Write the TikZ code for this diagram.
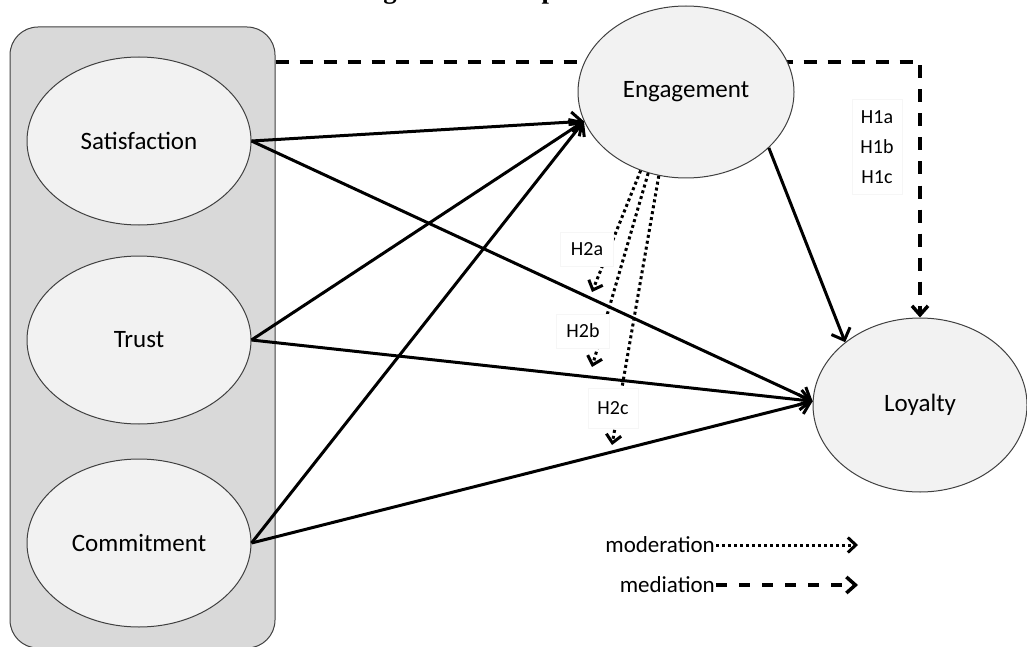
\documentclass[tikz,border=0pt]{standalone}
\usepackage{fontspec}
\setmainfont{Carlito}
\newfontfamily\titlefont{Liberation Serif}
\usetikzlibrary{shapes.geometric,arrows.meta}
\pgfdeclarelayer{background}
\pgfsetlayers{background,main}
\definecolor{boxgray}{HTML}{D9D9D9}
\definecolor{ellgray}{HTML}{F2F2F2}
\definecolor{edgegray}{HTML}{404040}
\begin{document}
\begin{tikzpicture}[x=1pt,y=-1pt,
  construct/.style={ellipse, draw=edgegray, line width=1pt, fill=ellgray,
    inner sep=0pt, font=\fontsize{25}{30}\selectfont},
  pathline/.style={line width=3pt, -{Straight Barb[length=10pt,width=20pt]}},
  mediation/.style={line width=3.5pt, dash pattern=on 13pt off 11pt,
    -{Straight Barb[length=9pt,width=16pt]}},
  moderation/.style={line width=3pt, dash pattern=on 3pt off 3pt,
    -{Straight Barb[length=8pt,width=15pt]}},
  hlabel/.style={fill=white, draw=gray!7, line width=0.6pt,
    font=\fontsize{20}{30}\selectfont, inner sep=0pt},
  legendtext/.style={font=\fontsize{23}{28}\selectfont, inner sep=1pt, anchor=east}
]
\clip (0,0) rectangle (1027,647);
\useasboundingbox (0,0) rectangle (1027,647);

% title (clipped by the page: only its descenders show)
\node[font=\titlefont\bfseries\fontsize{26.7}{30}\selectfont, anchor=base, inner sep=0pt] (title) at (520,-1) {Figure 1. Conceptual Model};

% group box
\node[draw=edgegray, line width=1pt, fill=boxgray, rounded corners=28pt,
      minimum width=265pt, minimum height=621pt, inner sep=0pt] (grp) at (142.5,337.5) {};

% constructs
\node[construct, minimum width=224pt, minimum height=168pt] (sat) at (139,141) {Satisfaction};
\node[construct, minimum width=224pt, minimum height=168pt] (tru) at (139,340) {Trust};
\node[construct, minimum width=224pt, minimum height=168pt] (com) at (139,543) {Commitment};
\node[construct, minimum width=216pt, minimum height=172pt] (eng) at (686,92) {Engagement};
\node[construct, minimum width=214pt, minimum height=174pt] (loy) at (920,405) {Loyalty};

% mediation (dashed) path
\begin{pgfonlayer}{background}
\draw[mediation] (grp.east |- 0,62) -| (loy.north);
\end{pgfonlayer}

% direct paths
\draw[pathline] (sat.east) -- (eng.196);
\draw[pathline] (tru.east) -- (eng.196);
\draw[pathline] (com.east) -- (eng.196);
\draw[pathline] (sat.east) -- (loy.178);
\draw[pathline] (tru.east) -- (loy.178);
\draw[pathline] (com.east) -- (loy.178);
\draw[pathline] (eng.-34) -- (loy.140);

% moderation paths
\coordinate (h2aend) at (592,292);
\coordinate (h2bend) at (592,367);
\coordinate (h2cend) at (612,445);
\draw[moderation] (eng.240) -- (h2aend);
\draw[moderation] (eng.245) -- (h2bend);
\draw[moderation] (eng.252) -- (h2cend);

% hypothesis labels
\node[hlabel, minimum width=53pt, minimum height=34pt] (h2a) at (587,249) {H2a};
\node[hlabel, minimum width=53pt, minimum height=34pt] (h2b) at (583,331) {H2b};
\node[hlabel, minimum width=50pt, minimum height=40pt] (h2c) at (613,408) {H2c};
\node[hlabel, minimum width=50pt, minimum height=95pt, align=center] (h1) at (877,147) {H1a\\H1b\\H1c};

% legend
\node[legendtext] (modlbl) at (716,545) {moderation};
\node[legendtext] (medlbl) at (716,585) {mediation};
\coordinate (modend) at (858,545);
\coordinate (medend) at (858,585);
\draw[moderation] (modlbl.east) -- (modend);
\draw[mediation, dash pattern=on 11pt off 12pt] (medlbl.east) -- (medend);
\end{tikzpicture}
\end{document}
